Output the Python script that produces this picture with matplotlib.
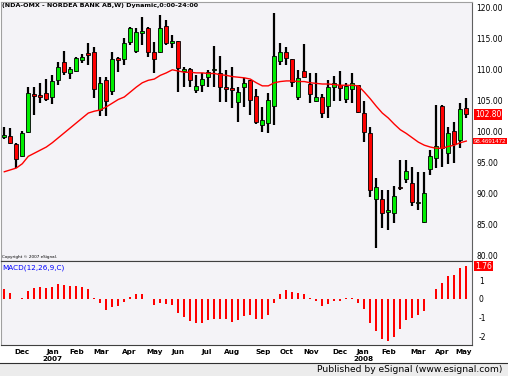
import matplotlib
matplotlib.use("Agg")
import matplotlib.pyplot as plt
from matplotlib.patches import Rectangle
import numpy as np

# weekly OHLC, Nov 2006 - May 2008
opens = [99.1, 99.3, 98.0, 96.0, 100.0, 106.1, 105.8, 106.2, 105.6, 108.4,
         111.3, 109.5, 109.8, 111.6, 112.7, 112.9, 103.5, 108.3, 106.5, 111.9,
         111.7, 114.5, 113.0, 116.0, 116.7, 112.9, 112.9, 117.1, 114.3, 114.7,
         109.8, 110.1, 106.8, 107.5, 108.8, 109.9, 109.5, 107.2, 107.0, 104.8,
         107.2, 108.3, 105.8, 101.1, 101.4, 104.1, 111.4, 112.9, 111.7, 105.6,
         109.8, 107.7, 105.0, 105.6, 104.1, 107.2, 107.6, 105.3, 106.9, 107.5,
         103.0, 99.8, 89.1, 89.1, 87.0, 86.8, 90.9, 92.3, 91.7, 88.4,
         85.3, 94.0, 95.7, 104.1, 96.5, 100.1, 98.6, 103.8]
highs = [100.7, 100.6, 98.2, 100.1, 107.2, 107.2, 107.9, 108.5, 109.2, 111.3,
         113.0, 110.5, 112.1, 112.6, 114.3, 113.7, 108.8, 108.8, 112.9, 112.1,
         115.1, 117.0, 116.8, 118.5, 116.9, 114.5, 118.9, 118.1, 115.6, 114.7,
         110.5, 110.3, 109.2, 109.5, 110.0, 113.8, 112.2, 110.0, 110.5, 107.2,
         108.7, 108.4, 106.9, 104.0, 106.2, 119.2, 114.3, 113.7, 111.7, 110.0,
         114.2, 109.5, 109.5, 106.1, 108.3, 109.0, 109.8, 107.9, 109.5, 107.5,
         105.0, 100.7, 92.5, 90.5, 90.5, 91.2, 95.4, 95.4, 94.3, 93.5,
         93.5, 97.0, 104.3, 104.3, 100.7, 101.6, 104.6, 105.4]
lows = [98.8, 98.0, 94.1, 95.9, 99.7, 102.7, 104.6, 105.0, 104.5, 107.5,
        109.2, 108.5, 109.6, 111.1, 110.8, 105.4, 102.5, 102.6, 106.0, 109.6,
        110.8, 114.0, 112.7, 114.0, 112.1, 109.5, 112.7, 114.0, 113.5, 106.4,
        107.2, 107.2, 106.2, 106.4, 107.2, 107.2, 104.8, 104.8, 103.8, 101.6,
        104.0, 102.7, 101.2, 100.0, 99.8, 101.1, 110.8, 110.8, 107.2, 105.1,
        108.8, 104.6, 104.8, 102.2, 102.2, 105.0, 105.0, 104.6, 104.6, 103.0,
        98.3, 89.4, 81.2, 84.4, 84.1, 85.2, 90.5, 91.7, 88.0, 87.3,
        85.2, 93.0, 94.1, 94.3, 94.8, 94.9, 97.3, 102.2]
closes = [99.45, 98.1, 95.6, 99.8, 106.2, 105.8, 105.6, 105.3, 108.2, 110.5,
          109.6, 110.1, 111.9, 112.1, 112.4, 106.9, 107.9, 105.0, 111.7, 111.6,
          114.3, 116.7, 116.1, 116.3, 112.8, 111.7, 116.7, 114.3, 114.7, 110.3,
          110.0, 108.3, 107.4, 108.5, 109.6, 110.1, 107.2, 106.9, 106.8, 106.4,
          107.9, 105.1, 101.6, 101.9, 105.1, 112.2, 112.9, 111.9, 108.0, 108.7,
          108.8, 106.1, 105.6, 103.0, 107.2, 107.9, 107.1, 107.4, 107.9, 103.2,
          100.0, 90.5, 91.0, 86.8, 87.1, 89.6, 90.8, 93.6, 88.6, 88.5,
          90.0, 96.0, 97.7, 97.3, 99.8, 98.0, 103.6, 102.8]

# moving average line
ma = [93.5, 93.8, 94.1, 94.8, 96.0, 96.5, 97.0, 97.5, 98.2, 99.0,
      99.8, 100.6, 101.4, 102.2, 103.0, 103.3, 103.5, 104.0, 104.6, 105.2,
      105.6, 106.4, 107.2, 107.9, 108.3, 108.5, 109.1, 109.5, 110.0, 109.8,
      109.6, 109.6, 109.5, 109.5, 109.4, 109.4, 109.2, 109.1, 108.9, 108.8,
      108.7, 108.5, 107.9, 107.4, 107.4, 107.9, 108.1, 108.2, 108.2, 108.1,
      108.1, 107.9, 107.8, 107.7, 107.7, 107.6, 107.5, 107.5, 107.5, 107.4,
      106.4, 105.3, 104.1, 103.0, 102.2, 101.2, 100.3, 99.7, 99.0, 98.3,
      97.8, 97.5, 97.3, 97.3, 97.6, 97.8, 98.2, 98.4691472]

macd = [0.53, 0.32, 0.02, 0.03, 0.41, 0.59, 0.64, 0.57, 0.66, 0.80,
        0.75, 0.70, 0.70, 0.64, 0.53, 0.03, -0.23, -0.60, -0.41, -0.36,
        -0.14, 0.12, 0.25, 0.28, -0.02, -0.30, -0.20, -0.28, -0.32, -0.73,
        -0.94, -1.17, -1.30, -1.26, -1.15, -1.05, -1.08, -1.08, -1.24, -1.13,
        -0.91, -0.87, -1.08, -1.08, -0.87, -0.20, 0.27, 0.48, 0.36, 0.32,
        0.27, 0.03, -0.09, -0.36, -0.25, -0.09, -0.09, 0.03, 0.05, -0.20,
        -0.55, -1.30, -1.70, -2.12, -2.23, -2.02, -1.63, -1.13, -1.04, -0.87,
        -0.62, 0.02, 0.53, 0.84, 1.23, 1.29, 1.68, 1.76]

month_pos = [2.95, 8.1, 12.1, 16.1, 20.8, 25.1, 29, 33.8, 38, 43.1, 47, 51.1,
             56, 59.8, 64, 69, 73, 76.6]
month_labels = ["Dec", "Jan\n2007", "Feb", "Mar", "Apr", "May", "Jun", "Jul",
                "Aug", "Sep", "Oct", "Nov", "Dec", "Jan\n2008", "Feb", "Mar",
                "Apr", "May"]
price_ticks = [80, 85, 90, 95, 100, 105, 110, 115, 120]
macd_ticks = [-2, -1, 0, 1]

W, H = 508, 376
bg = "#f4f3f7"
green = "#00ee00"
red = "#ff0000"

fig = plt.figure(figsize=(W / 100, H / 100), dpi=100)
fig.patch.set_facecolor("white")

ax = fig.add_axes([1 / W, (H - 261) / H, 471 / W, 259 / H])
ax2 = fig.add_axes([1 / W, 31 / H, 471 / W, 84 / H])

x = np.arange(len(closes))
for i in x:
    o, h, l, c = opens[i], highs[i], lows[i], closes[i]
    ax.plot([i, i], [l, h], color="black", lw=1.6, solid_capstyle="butt", zorder=2)
    lo, hi = min(o, c), max(o, c)
    col = green if c >= o else red
    ax.add_patch(Rectangle((i - 0.33, lo), 0.66, max(hi - lo, 0.25),
                           facecolor=col, edgecolor="black", lw=0.6, zorder=3))
ax.plot(x, ma, color=red, lw=1.0, zorder=4)

ax.set_xlim(-0.55, 77.95)
ax.set_ylim(79.06, 120.97)
ax.set_facecolor(bg)
ax.yaxis.tick_right()
ax.set_yticks(price_ticks)
ax.set_yticklabels(["%.2f" % v for v in price_ticks])
ax.tick_params(axis="y", length=0, pad=3, labelsize=5.5)
ax.set_xticks([])
for s in ax.spines.values():
    s.set_color("#a0a0a0")
    s.set_linewidth(0.8)
ax.spines["right"].set_color("#606060")
ax.spines["bottom"].set_color("#404040")

ax.text(0.003, 0.995, "(NDA-OMX - NORDEA BANK AB,W) Dynamic,0:00-24:00",
        transform=ax.transAxes, ha="left", va="top", fontsize=4.6,
        fontweight="bold")
ax.text(0.003, 0.008, "Copyright \u00a9 2007 eSignal.", transform=ax.transAxes,
        ha="left", va="bottom", fontsize=3.0)

box = dict(boxstyle="square,pad=0.12", facecolor=red, edgecolor="none")
ax.annotate("%.2f" % closes[-1], xy=(1.0, closes[-1]),
            xycoords=("axes fraction", "data"), xytext=(2.3, 0),
            textcoords="offset points", ha="left", va="center",
            fontsize=5.5, color="white", bbox=box)
ax.annotate("%.7f" % ma[-1], xy=(1.0, ma[-1]),
            xycoords=("axes fraction", "data"), xytext=(1.0, 0),
            textcoords="offset points", ha="left", va="center",
            fontsize=4.4, color="white", bbox=box,
            family=["Liberation Sans Narrow", "Liberation Sans", "DejaVu Sans"])

ax2.bar(x, macd, width=0.32, color=red, zorder=2)
ax2.set_xlim(-0.55, 77.95)
ax2.set_ylim(-2.46, 2.03)
ax2.set_facecolor(bg)
ax2.yaxis.tick_right()
ax2.set_yticks(macd_ticks)
ax2.set_yticklabels([str(v) for v in macd_ticks])
ax2.tick_params(axis="y", length=0, pad=5, labelsize=5.5)
ax2.set_xticks(month_pos)
ax2.set_xticklabels(month_labels, fontsize=5.2, fontweight="bold",
                    linespacing=1.1)
ax2.tick_params(axis="x", length=0, pad=3)
for s in ax2.spines.values():
    s.set_color("#a0a0a0")
    s.set_linewidth(0.8)
ax2.spines["right"].set_color("#606060")
ax2.spines["top"].set_color("#404040")
ax2.spines["bottom"].set_color("#404040")
ax2.text(0.003, 0.96, "MACD(12,26,9,C)", transform=ax2.transAxes,
         ha="left", va="top", fontsize=5.2, color="#0000ff")
ax2.annotate("%.2f" % macd[-1], xy=(1.0, macd[-1]),
             xycoords=("axes fraction", "data"), xytext=(2.3, 0),
             textcoords="offset points", ha="left", va="center",
             fontsize=5.5, color="white", bbox=box)

# footer band
fig.patches.append(Rectangle((0, 0), 1, 13 / H, transform=fig.transFigure,
                             facecolor="#ececec", edgecolor="none", zorder=0))
fig.lines.append(plt.Line2D([0, 1], [13 / H, 13 / H], transform=fig.transFigure,
                            color="#303030", lw=0.8))
fig.text(502 / W, 6.5 / H, "Published by eSignal (www.esignal.com)",
         ha="right", va="center", fontsize=6.6)

fig.savefig("out.png", dpi=100)
